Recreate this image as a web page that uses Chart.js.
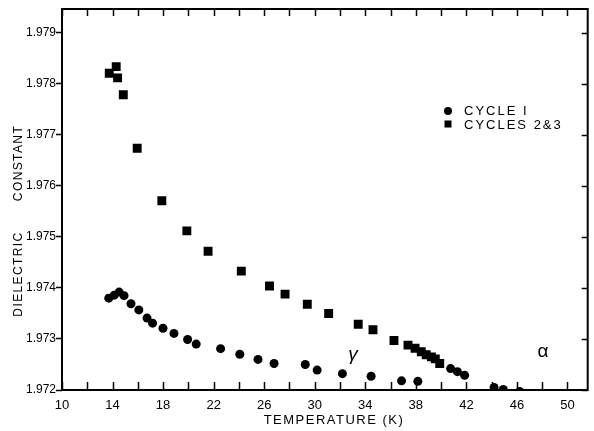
<!DOCTYPE html>
<html>
<head>
<meta charset="utf-8">
<script src="https://cdn.jsdelivr.net/npm/chart.js@4"></script>
<style>
  body { margin: 0; background: #fff; }
</style>
</head>
<body>
<canvas id="dielChart" width="594" height="431"></canvas>
<script>
  // Cycle 1 (circles)
  const cycle1Temp = [13.70, 14.13, 14.52, 14.91, 15.46, 16.08, 16.73, 17.17, 17.99, 18.86,
    19.94, 20.62, 22.55, 24.07, 25.51, 26.78, 29.25, 30.19, 32.19, 34.46,
    36.87, 38.16, 40.75, 41.29, 41.86, 44.19, 44.92, 46.22];
  const cycle1Eps = [1.97380, 1.97386, 1.97392, 1.97385, 1.97369, 1.97357, 1.97341, 1.97331, 1.97321, 1.97311,
    1.97299, 1.97290, 1.97281, 1.97270, 1.97260, 1.97252, 1.97250, 1.97239, 1.97232, 1.97227,
    1.97218, 1.97217, 1.97242, 1.97236, 1.97229, 1.97205, 1.97201, 1.97197];

  // Cycles 2 & 3 (squares)
  const cycle23Temp = [13.74, 14.29, 14.40, 14.85, 15.95, 17.90, 19.88, 21.56, 24.19, 26.42,
    27.65, 29.41, 31.10, 33.44, 34.61, 36.27, 37.38, 37.94, 38.43, 38.82,
    39.23, 39.54, 39.89];
  const cycle23Eps = [1.97821, 1.97834, 1.97812, 1.97779, 1.97674, 1.97571, 1.97512, 1.97472, 1.97433, 1.97404,
    1.97388, 1.97368, 1.97350, 1.97329, 1.97318, 1.97297, 1.97288, 1.97282, 1.97275, 1.97269,
    1.97265, 1.97261, 1.97252];

  const xTickValues = [10, 12, 14, 16, 18, 20, 22, 24, 26, 28, 30, 32, 34, 36, 38, 40, 42, 44, 46, 48, 50];
  const xTickLabels = ['10', '14', '18', '22', '26', '30', '34', '38', '42', '46', '50'];
  const yTickValues = [1.972, 1.973, 1.974, 1.975, 1.976, 1.977, 1.978, 1.979];
  const yTickLabels = ['1.972', '1.973', '1.974', '1.975', '1.976', '1.977', '1.978', '1.979'];

  const FONT = "'Liberation Sans', Arial, sans-serif";

  const toPoints = (xs, ys) => xs.map((x, i) => ({ x: x, y: ys[i] }));

  // frame, inward ticks, titles, legend and phase labels
  const decorations = {
    id: 'decorations',
    afterDraw(chart) {
      const ctx = chart.ctx;
      const area = chart.chartArea;
      const xs = chart.scales.x;
      const ys = chart.scales.y;
      ctx.save();
      ctx.strokeStyle = '#000';
      ctx.fillStyle = '#000';

      ctx.lineWidth = 2;
      ctx.strokeRect(area.left, area.top, area.right - area.left, area.bottom - area.top);

      ctx.lineWidth = 1.5;
      ctx.beginPath();
      xTickValues.forEach(v => {
        const px = Math.round(xs.getPixelForValue(v)) + 0.5;
        ctx.moveTo(px, area.bottom);
        ctx.lineTo(px, area.bottom - 8);
        ctx.moveTo(px, area.top);
        ctx.lineTo(px, area.top + 7);
      });
      yTickValues.forEach(v => {
        const py = Math.round(ys.getPixelForValue(v)) + 0.5;
        ctx.moveTo(area.right, py);
        ctx.lineTo(area.right - 6, py);
      });
      ctx.stroke();

      // axis titles
      ctx.font = '13px ' + FONT;
      ctx.letterSpacing = '1.5px';
      ctx.textAlign = 'center';
      ctx.textBaseline = 'middle';
      ctx.fillText('TEMPERATURE (K)', 334, 420);

      ctx.save();
      ctx.translate(19, 0);
      ctx.rotate(-Math.PI / 2);
      ctx.font = '12px ' + FONT;
      ctx.letterSpacing = '1.4px';
      ctx.fillText('DIELECTRIC', -274, 0);
      ctx.fillText('CONSTANT', -163, 0);
      ctx.restore();

      // legend
      ctx.beginPath();
      ctx.arc(448, 111, 4, 0, Math.PI * 2);
      ctx.fill();
      ctx.fillRect(444.5, 120.5, 7, 7);
      ctx.font = '13px ' + FONT;
      ctx.letterSpacing = '2px';
      ctx.textAlign = 'left';
      ctx.fillText('CYCLE I', 464, 111);
      ctx.fillText('CYCLES 2&3', 464, 125);

      // phase labels
      ctx.letterSpacing = '0px';
      ctx.textAlign = 'center';
      ctx.font = 'italic 19px ' + FONT;
      ctx.fillText('γ', 353, 355);
      ctx.font = '19px ' + FONT;
      ctx.fillText('α', 543, 352);
      ctx.restore();
    }
  };

  new Chart(document.getElementById('dielChart').getContext('2d'), {
    type: 'scatter',
    data: {
      datasets: [{
        label: 'CYCLE I',
        data: toPoints(cycle1Temp, cycle1Eps),
        pointStyle: 'circle',
        pointRadius: 4.5,
        backgroundColor: '#000',
        borderWidth: 0
      }, {
        label: 'CYCLES 2&3',
        data: toPoints(cycle23Temp, cycle23Eps),
        pointStyle: 'rect',
        pointRadius: 6.3,
        backgroundColor: '#000',
        borderWidth: 0
      }]
    },
    options: {
      responsive: false,
      animation: false,
      layout: { padding: { top: 9, right: 1, left: 0, bottom: 0 } },
      plugins: {
        legend: { display: false },
        title: { display: false },
        tooltip: { enabled: false }
      },
      scales: {
        x: {
          type: 'linear',
          min: 10,
          max: 51.6,
          afterBuildTicks: s => { s.ticks = xTickValues.map(v => ({ value: v })); },
          afterFit: s => { s.height = 41; },
          grid: { display: false },
          border: { display: false },
          ticks: {
            padding: 0,
            color: '#000',
            font: { family: FONT, size: 13 },
            maxRotation: 0,
            autoSkip: false,
            callback: v => ((v - 10) % 4 === 0 ? xTickLabels[(v - 10) / 4] : '')
          }
        },
        y: {
          type: 'linear',
          min: 1.972,
          max: 1.97947,
          afterBuildTicks: s => { s.ticks = yTickValues.map(v => ({ value: v })); },
          afterFit: s => { s.width = 62; },
          grid: { drawOnChartArea: false, tickLength: 6, tickColor: '#000', tickWidth: 1.5 },
          border: { display: false },
          ticks: {
            padding: 0,
            color: '#000',
            font: { family: FONT, size: 12 },
            autoSkip: false,
            callback: (v, i) => yTickLabels[i]
          }
        }
      }
    },
    plugins: [decorations]
  });
</script>
</body>
</html>
